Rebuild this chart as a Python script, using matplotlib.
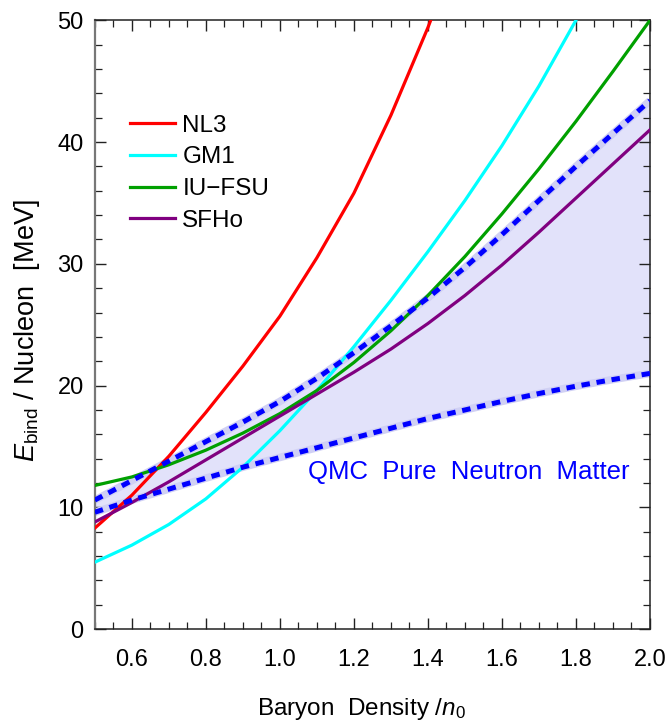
import matplotlib.pyplot as plt
import numpy as np

plt.rcParams['font.family'] = ['Liberation Sans', 'DejaVu Sans']
plt.rcParams['mathtext.fontset'] = 'custom'
plt.rcParams['mathtext.rm'] = 'Liberation Sans'
plt.rcParams['mathtext.it'] = 'Liberation Sans:italic'

# values
x_nl3 = [0.5, 0.6, 0.7, 0.8, 0.9, 1.0, 1.1, 1.2, 1.3, 1.4, 1.41]
y_nl3 = [8.3, 11.0, 14.2, 17.8, 21.6, 25.7, 30.5, 35.8, 42.2, 49.4, 50.2]

x_gm1 = [0.5, 0.6, 0.7, 0.8, 0.9, 1.0, 1.1, 1.2, 1.3, 1.4, 1.5, 1.6, 1.7, 1.8, 1.81]
y_gm1 = [5.5, 6.9, 8.6, 10.7, 13.3, 16.3, 19.6, 23.2, 27.0, 31.0, 35.2, 39.7, 44.6, 50.0, 50.6]

x_grid = [0.5, 0.6, 0.7, 0.8, 0.9, 1.0, 1.1, 1.2, 1.3, 1.4, 1.5, 1.6, 1.7, 1.8, 1.9, 2.0]
y_iufsu = [11.8, 12.5, 13.5, 14.7, 16.1, 17.7, 19.6, 21.9, 24.5, 27.4, 30.6, 34.1, 37.8, 41.7, 45.8, 50.0]
y_sfho = [8.8, 10.4, 12.1, 13.9, 15.7, 17.5, 19.3, 21.1, 23.0, 25.1, 27.4, 29.9, 32.6, 35.4, 38.2, 41.0]
y_qmc_hi = [10.6, 12.2, 13.8, 15.4, 17.0, 18.7, 20.6, 22.7, 24.9, 27.2, 29.7, 32.4, 35.2, 38.0, 40.7, 43.4]
y_qmc_lo = [9.6, 10.6, 11.5, 12.4, 13.3, 14.1, 14.9, 15.7, 16.5, 17.3, 18.0, 18.7, 19.35, 19.95, 20.5, 21.0]

fig = plt.figure(figsize=(6.68, 7.24), dpi=100)
ax = fig.add_axes([0.142, 0.131, 0.831, 0.841])

# QMC band
ax.fill_between(x_grid, y_qmc_lo, y_qmc_hi, color='#e2e2fa', lw=0, zorder=1)
for yq in (y_qmc_lo, y_qmc_hi):
    ax.plot(x_grid, yq, color='#d0d0f4', lw=5.5, solid_capstyle='butt', zorder=2)
    ax.plot(x_grid, yq, color='#0000ff', lw=3.6, dashes=(1.7, 1.35), zorder=5)

ax.plot(x_nl3, y_nl3, color='#ff0000', lw=2.3, label='NL3', zorder=3)
ax.plot(x_gm1, y_gm1, color='#00ffff', lw=2.3, label='GM1', zorder=3)
ax.plot(x_grid, y_iufsu, color='#00a000', lw=2.3, label='IU\u2212FSU', zorder=3)
ax.plot(x_grid, y_sfho, color='#800080', lw=2.3, label='SFHo', zorder=3)

ax.text(1.075, 12.9, 'QMC  Pure  Neutron  Matter', color='#0000ff',
        fontsize=18.5, ha='left', va='center')

ax.set_xlim(0.5, 2.0)
ax.set_ylim(0, 50)
ax.set_xticks(np.arange(0.6, 2.01, 0.2))
ax.set_xticks(np.arange(0.5, 2.01, 0.05), minor=True)
ax.set_yticks(np.arange(0, 51, 10))
ax.set_yticks(np.arange(0, 51, 2), minor=True)
ax.xaxis.set_major_formatter(plt.FormatStrFormatter('%.1f'))
ax.tick_params(which='both', direction='in', top=True, right=True,
               labelsize=17, colors='#222222', labelcolor='black')
ax.tick_params(which='major', length=8, width=1)
ax.tick_params(which='minor', length=5, width=0.9)
ax.tick_params(axis='x', which='major', pad=14)
ax.tick_params(axis='y', which='major', pad=8)
for s in ax.spines.values():
    s.set_color('#222222')
    s.set_linewidth(1.1)
ax.spines['left'].set_color('#777777')
ax.spines['left'].set_linewidth(1.6)

ax.set_xlabel(r'Baryon  Density /$\mathit{n}_0$', fontsize=17.5)
ax.xaxis.set_label_coords(0.48, -0.11)
ax.set_ylabel(r'$\mathit{E}_{\rm bind}$ / Nucleon  [MeV]', fontsize=19.5)
ax.yaxis.set_label_coords(-0.095, 0.49)

ax.legend(loc='upper left', bbox_to_anchor=(0.046, 0.861), frameon=False,
          fontsize=17.5, handlelength=1.85, handletextpad=0.3, labelspacing=0.4,
          borderaxespad=0)

fig.savefig('out.png', dpi=100)
